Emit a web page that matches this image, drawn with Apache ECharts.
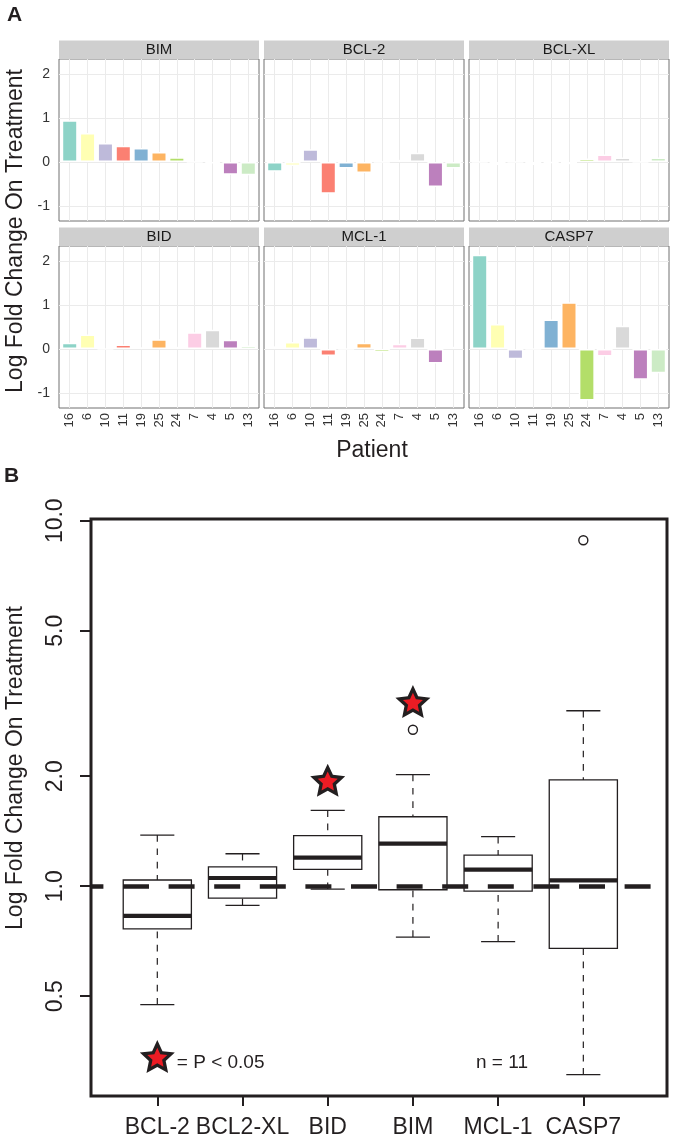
<!DOCTYPE html>
<html>
<head>
<meta charset="utf-8">
<script src="https://cdn.jsdelivr.net/npm/echarts@6/dist/echarts.min.js"></script>
<style>
  html, body { margin: 0; padding: 0; background: #fff; }
  #main { width: 675px; height: 1141px; }
</style>
</head>
<body>
<div id="main"></div>
<script>
// ---- panel A: log fold change per patient
var patients = ['16', '6', '10', '11', '19', '25', '24', '7', '4', '5', '13'];
var bim   = [0.95, 0.66, 0.43, 0.37, 0.32, 0.23, 0.11, 0, -0.03, -0.29, -0.30];
var bcl2  = [-0.22, -0.09, 0.29, -0.72, -0.15, -0.25, 0, 0.05, 0.21, -0.57, -0.15];
var bclxl = [0, -0.07, 0, -0.07, -0.02, -0.05, 0.08, 0.17, 0.10, 0, 0.10];
var bid   = [0.14, 0.33, 0, 0.10, 0.04, 0.22, 0.05, 0.38, 0.44, 0.21, 0.08];
var mcl1  = [0.06, 0.16, 0.27, -0.16, 0, 0.14, -0.08, 0.12, 0.26, -0.33, 0.05];
var casp7 = [2.14, 0.57, -0.23, 0, 0.67, 1.06, -1.17, -0.17, 0.53, -0.70, -0.55];
var facetNames = ['BIM', 'BCL-2', 'BCL-XL', 'BID', 'MCL-1', 'CASP7'];
var facetValues = [bim, bcl2, bclxl, bid, mcl1, casp7];
var set3 = ['#8DD3C7', '#FFFFB3', '#BEBADA', '#FB8072', '#80B1D3', '#FDB462',
            '#B3DE69', '#FCCDE5', '#D9D9D9', '#BC80BD', '#CCEBC5'];
var yTicksA = [-1, 0, 1, 2];

// ---- panel B: boxplot stats (fold change, log scale)
var boxGenes    = ['BCL-2', 'BCL2-XL', 'BID', 'BIM', 'MCL-1', 'CASP7'];
var whiskerLow  = [0.474, 0.886, 0.982, 0.726, 0.705, 0.305];
var q1          = [0.764, 0.928, 1.112, 0.978, 0.970, 0.676];
var median      = [0.830, 1.053, 1.197, 1.307, 1.110, 1.038];
var q3          = [1.040, 1.130, 1.375, 1.549, 1.217, 1.953];
var whiskerHigh = [1.380, 1.227, 1.613, 2.020, 1.366, 3.020];
var outlierGene  = ['BIM', 'CASP7'];
var outlierValue = [2.68, 8.84];
var sigGene   = ['BID', 'BIM'];
var sigStarAt = [1.95, 3.2];
var legendStarAt = 0.342;
var refValue = 1;
var yTicksB = [0.5, 1, 2, 5, 10];

var FONT = 'Liberation Sans, Arial, Helvetica, sans-serif';
var INK = '#231f20';

var myChart = echarts.init(document.getElementById('main'));

function lg(v) { return Math.log10(v); }
function genePos(name) { return boxGenes.indexOf(name) + 1; }

function starPath(inner) {
  var pts = [];
  for (var k = 0; k < 10; k++) {
    var r = k % 2 ? inner : 1;
    var a = -Math.PI / 2 + k * Math.PI / 5;
    pts.push((r * Math.cos(a)).toFixed(4) + ' ' + (r * Math.sin(a)).toFixed(4));
  }
  return 'path://M' + pts.join(' L') + ' Z';
}
var STAR = starPath(0.48);

var grids = [], xAxes = [], yAxes = [], series = [], graphics = [];

// facets
var colLeft = [59, 264, 469];
var rowTop = [59, 246];
var panelW = 200, panelH = 162, stripH = 18.5;
var xTicksA = patients.map(function (p, i) { return i + 1; });

facetNames.forEach(function (name, i) {
  var col = i % 3, row = Math.floor(i / 3);
  grids.push({
    left: colLeft[col], top: rowTop[row], width: panelW, height: panelH,
    show: true, borderColor: '#707070', borderWidth: 1
  });
  xAxes.push({
    gridIndex: i, type: 'value', min: 0.4, max: 11.6,
    axisLine: { show: false, onZero: false },
    axisTick: { show: false, customValues: xTicksA },
    splitLine: { show: true, lineStyle: { color: '#ebebeb', width: 1 } },
    axisLabel: {
      show: row === 1, customValues: xTicksA, rotate: 90, margin: 5,
      fontSize: 13, color: '#333', fontFamily: FONT,
      formatter: function (v) { return patients[Math.round(v) - 1]; }
    }
  });
  yAxes.push({
    gridIndex: i, type: 'value', min: -1.34, max: 2.34,
    axisLine: { show: false, onZero: false },
    axisTick: { show: false, customValues: yTicksA },
    splitLine: { show: true, lineStyle: { color: '#ebebeb', width: 1 } },
    axisLabel: {
      show: col === 0, customValues: yTicksA, margin: 9,
      fontSize: 14, color: '#333', fontFamily: FONT
    }
  });
  series.push({
    type: 'bar', xAxisIndex: i, yAxisIndex: i, barWidth: 16, silent: true,
    itemStyle: { borderColor: '#fff', borderWidth: 1.5 },
    data: facetValues[i].map(function (v, j) {
      return { value: [j + 1, v], itemStyle: { color: set3[j] } };
    })
  });
  // strip
  graphics.push({
    type: 'rect',
    shape: { x: colLeft[col], y: rowTop[row] - stripH, width: panelW, height: stripH },
    style: { fill: '#cfcfcf' }
  });
  graphics.push({
    type: 'text', x: colLeft[col] + panelW / 2, y: rowTop[row] - stripH / 2 + 0.5,
    style: { text: name, fontSize: 15, fontFamily: FONT, fill: '#1a1a1a',
             align: 'center', verticalAlign: 'middle' }
  });
});

// boxplot panel
var bIdx = facetNames.length;
grids.push({
  left: 91, top: 519, width: 576, height: 577,
  show: true, borderColor: INK, borderWidth: 3
});
var xTicksB = boxGenes.map(function (g, i) { return i + 1; });
xAxes.push({
  gridIndex: bIdx, type: 'value', min: 0.2218, max: 6.982,
  axisLine: { show: false, onZero: false },
  axisTick: { show: true, length: 10, customValues: xTicksB, lineStyle: { color: INK, width: 2 } },
  splitLine: { show: false },
  axisLabel: {
    customValues: xTicksB, margin: 20, fontSize: 23, color: INK, fontFamily: FONT,
    formatter: function (v) { return boxGenes[Math.round(v) - 1]; }
  }
});
var yTicksBLog = yTicksB.map(lg);
yAxes.push({
  gridIndex: bIdx, type: 'value', min: -0.574, max: 1.0047,
  axisLine: { show: false, onZero: false },
  axisTick: { show: true, length: 11, customValues: yTicksBLog, lineStyle: { color: INK, width: 2 } },
  splitLine: { show: false },
  axisLabel: {
    customValues: yTicksBLog, rotate: 90, margin: 24, fontSize: 23, color: INK, fontFamily: FONT,
    formatter: function (v) { return Math.pow(10, v).toFixed(1); }
  }
});

var boxHalf = 0.4, capHalf = 0.2;
series.push({
  type: 'custom', xAxisIndex: bIdx, yAxisIndex: bIdx, z: 2, silent: true,
  encode: { x: 0, y: [1, 2, 3, 4, 5] },
  data: boxGenes.map(function (g, i) {
    return [i + 1, lg(whiskerLow[i]), lg(q1[i]), lg(median[i]), lg(q3[i]), lg(whiskerHigh[i])];
  }),
  renderItem: function (params, api) {
    var x = api.value(0);
    var lo = api.value(1), a = api.value(2), m = api.value(3), b = api.value(4), hi = api.value(5);
    function seg(dx1, v1, dx2, v2, style) {
      var p1 = api.coord([x + dx1, v1]), p2 = api.coord([x + dx2, v2]);
      return { type: 'line', shape: { x1: p1[0], y1: p1[1], x2: p2[0], y2: p2[1] }, style: style };
    }
    var dash = { stroke: INK, lineWidth: 1.2, lineDash: [6.7, 6.6], fill: null };
    var solid = { stroke: INK, lineWidth: 1.3, fill: null };
    var tl = api.coord([x - boxHalf, b]), br = api.coord([x + boxHalf, a]);
    return {
      type: 'group',
      children: [
        seg(0, hi, 0, b, dash),
        seg(0, lo, 0, a, dash),
        seg(-capHalf, hi, capHalf, hi, solid),
        seg(-capHalf, lo, capHalf, lo, solid),
        { type: 'rect', shape: { x: tl[0], y: tl[1], width: br[0] - tl[0], height: br[1] - tl[1] },
          style: { fill: '#fff', stroke: INK, lineWidth: 1.3 } },
        seg(-boxHalf, m, boxHalf, m, { stroke: INK, lineWidth: 4.2 })
      ]
    };
  }
});

// outliers + reference line
series.push({
  type: 'scatter', xAxisIndex: bIdx, yAxisIndex: bIdx, z: 4, silent: true,
  symbol: 'circle', symbolSize: 9,
  itemStyle: { color: '#fff', borderColor: INK, borderWidth: 1.4, opacity: 1 },
  data: outlierGene.map(function (g, i) { return [genePos(g), lg(outlierValue[i])]; }),
  markLine: {
    silent: true, symbol: ['none', 'none'], label: { show: false },
    lineStyle: { color: INK, width: 4.5, type: [26, 19.6], dashOffset: 13.6, cap: 'butt' },
    data: [{ yAxis: lg(refValue) }]
  }
});

// significance stars (outer dark, inner red)
var starPts = sigGene.map(function (g, i) { return [genePos(g), lg(sigStarAt[i])]; });
series.push({
  type: 'scatter', xAxisIndex: bIdx, yAxisIndex: bIdx, z: 6, silent: true,
  symbol: STAR, symbolSize: [35, 33],
  itemStyle: { color: INK, opacity: 1 },
  data: starPts.concat([{
    value: [1, lg(legendStarAt)],
    label: { show: true, position: 'right', distance: 2, offset: [0, 6],
             formatter: '= P < 0.05', fontSize: 19, color: INK, fontFamily: FONT }
  }])
});
series.push({
  type: 'scatter', xAxisIndex: bIdx, yAxisIndex: bIdx, z: 7, silent: true,
  symbol: STAR, symbolSize: [20, 19], symbolOffset: [0, 0.7],
  itemStyle: { color: '#ec1c24', opacity: 1 },
  data: starPts.concat([[1, lg(legendStarAt)]])
});

// texts
graphics.push(
  { type: 'text', x: 7, y: 15, style: { text: 'A', fontSize: 21, fontWeight: 'bold', fontFamily: FONT, fill: INK, align: 'left', verticalAlign: 'middle' } },
  { type: 'text', x: 4, y: 476, style: { text: 'B', fontSize: 21, fontWeight: 'bold', fontFamily: FONT, fill: INK, align: 'left', verticalAlign: 'middle' } },
  { type: 'text', x: 16, y: 231, rotation: Math.PI / 2, style: { text: 'Log Fold Change On Treatment', fontSize: 23, fontFamily: FONT, fill: INK, align: 'center', verticalAlign: 'middle' } },
  { type: 'text', x: 16, y: 768, rotation: Math.PI / 2, style: { text: 'Log Fold Change On Treatment', fontSize: 23, fontFamily: FONT, fill: INK, align: 'center', verticalAlign: 'middle' } },
  { type: 'text', x: 372, y: 451, style: { text: 'Patient', fontSize: 23, fontFamily: FONT, fill: INK, align: 'center', verticalAlign: 'middle' } },
  { type: 'text', x: 502, y: 1063, style: { text: 'n = 11', fontSize: 19, fontFamily: FONT, fill: INK, align: 'center', verticalAlign: 'middle' } }
);

myChart.setOption({
  animation: false,
  backgroundColor: '#fff',
  textStyle: { fontFamily: FONT },
  grid: grids,
  xAxis: xAxes,
  yAxis: yAxes,
  series: series,
  graphic: graphics
});
</script>
</body>
</html>
